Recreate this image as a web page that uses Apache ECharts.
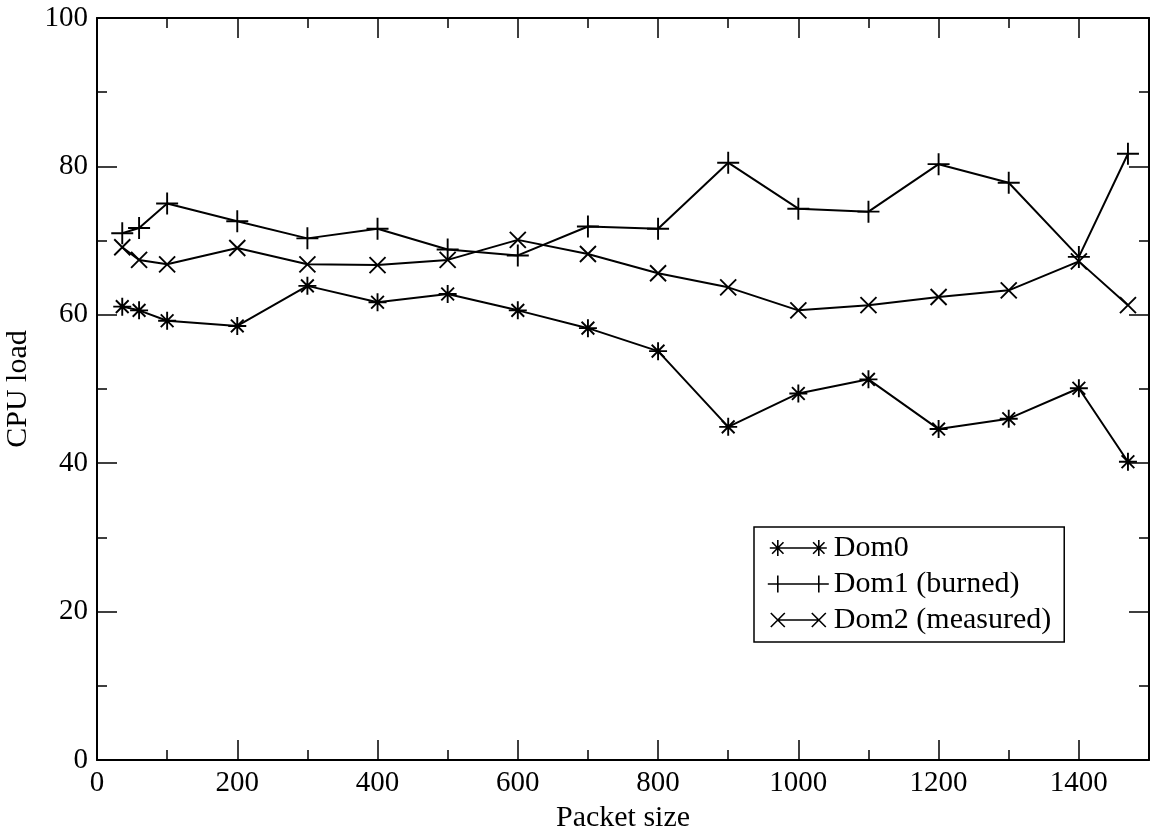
<!DOCTYPE html>
<html>
<head>
<meta charset="utf-8">
<script src="https://cdn.jsdelivr.net/npm/echarts@6/dist/echarts.min.js"></script>
<style>
html,body{margin:0;padding:0;background:#fff;}
#chart{width:1151px;height:832px;}
</style>
</head>
<body>
<div id="chart"></div>
<script>
const packetSizes = [36, 60, 100, 200, 300, 400, 500, 600, 700, 800, 900, 1000, 1100, 1200, 1300, 1400, 1470];
const dom0 = [61.1, 60.6, 59.2, 58.5, 63.9, 61.7, 62.8, 60.6, 58.2, 55.1, 44.9, 49.4, 51.3, 44.6, 46.0, 50.1, 40.2];
const dom1 = [71.0, 71.7, 75.0, 72.6, 70.3, 71.6, 68.8, 68.0, 71.9, 71.6, 80.5, 74.3, 73.9, 80.3, 77.8, 67.8, 81.7];
const dom2 = [69.1, 67.4, 66.8, 69.0, 66.8, 66.7, 67.4, 70.1, 68.2, 65.6, 63.7, 60.6, 61.3, 62.4, 63.3, 67.2, 61.3];
const seriesNames = ['Dom0', 'Dom1 (burned)', 'Dom2 (measured)'];
const xTicks = [0, 200, 400, 600, 800, 1000, 1200, 1400];
const yTicks = [0, 20, 40, 60, 80, 100];

const FONT = '"Liberation Serif", "DejaVu Serif", serif';
const starPath = 'path://M0,-10L0,10M-10,0L10,0M-7.07,-7.07L7.07,7.07M-7.07,7.07L7.07,-7.07';
const plusPath = 'path://M0,-10L0,10M-10,0L10,0';
const crossPath = 'path://M-10,-10L10,10M-10,10L10,-10';

// legend icons: line with marker at each end (bbox fixed 0..61 x 0..20, marker centres at 10 and 51)
const legStar = 'path://M0,0M61,20M10,2L10,18M2,10L18,10M4.3,4.3L15.7,15.7M4.3,15.7L15.7,4.3M10,10L51,10M51,2L51,18M43,10L59,10M45.3,4.3L56.7,15.7M45.3,15.7L56.7,4.3';
const legPlus = 'path://M0,0M61,20M10,1.5L10,18.5M0,10L20,10M10,10L51,10M51,1.5L51,18.5M41,10L61,10';
const legCross = 'path://M0,0M61,20M3,3L17,17M3,17L17,3M10,10L51,10M44,3L58,17M44,17L58,3';

function pairs(ys) { return packetSizes.map((x, i) => [x, ys[i]]); }

const chart = echarts.init(document.getElementById('chart'), null, {renderer: 'canvas'});

const axisCommon = {
  axisLine: {show: true, onZero: false, lineStyle: {color: '#000', width: 2}},
  axisTick: {show: true, inside: true, length: 20, lineStyle: {color: '#000', width: 1.5}},
  minorTick: {show: true, splitNumber: 2, length: 10, lineStyle: {color: '#000', width: 1.5}},
  splitLine: {show: false},
};

function mkSeries(name, data, symbol, size) {
  return {
    name: name, type: 'line', data: pairs(data),
    symbol: symbol, symbolSize: size,
    showSymbol: true,
    lineStyle: {color: '#000', width: 2},
    itemStyle: {color: '#000', borderColor: '#000', borderWidth: 1.9},
    emphasis: {disabled: true},
    animation: false,
    z: 3
  };
}

chart.setOption({
  backgroundColor: '#fff',
  animation: false,
  grid: {left: 97, right: 2, top: 18, bottom: 72, containLabel: false, outerBoundsMode: 'none'},
  legend: {
    show: true,
    orient: 'vertical',
    left: 754, top: 527,
    padding: [4, 13, 5, 13],
    borderColor: '#000', borderWidth: 1.5,
    backgroundColor: '#fff',
    itemWidth: 61, itemHeight: 20,
    itemGap: 2,
    textStyle: {fontFamily: FONT, fontSize: 30, color: '#000', lineHeight: 34},
    itemStyle: {color: '#000', borderColor: '#000', borderWidth: 1.6},
    data: [
      {name: seriesNames[0], icon: legStar},
      {name: seriesNames[1], icon: legPlus},
      {name: seriesNames[2], icon: legCross}
    ],
    selectedMode: false
  },
  xAxis: [
    Object.assign({
      type: 'value', min: 0, max: 1500, interval: 200, position: 'bottom',
      name: 'Packet size', nameLocation: 'middle', nameGap: 43,
      nameTextStyle: {fontFamily: FONT, fontSize: 30, color: '#000'},
      axisLabel: {show: true, fontFamily: FONT, fontSize: 29, color: '#000', margin: 9,
        formatter: v => xTicks.includes(v) ? String(v) : ''}
    }, axisCommon),
    Object.assign({
      type: 'value', min: 0, max: 1500, interval: 200, position: 'top',
      axisLabel: {show: false}
    }, axisCommon)
  ],
  yAxis: [
    Object.assign({
      type: 'value', min: 0, max: 100, interval: 20, position: 'left',
      name: 'CPU load', nameLocation: 'middle', nameGap: 56, nameRotate: 90,
      nameTextStyle: {fontFamily: FONT, fontSize: 30, color: '#000'},
      axisLabel: {show: true, fontFamily: FONT, fontSize: 29, color: '#000', margin: 9,
        formatter: v => yTicks.includes(v) ? String(v) : ''}
    }, axisCommon),
    Object.assign({
      type: 'value', min: 0, max: 100, interval: 20, position: 'right',
      axisLabel: {show: false}
    }, axisCommon)
  ],
  series: [
    mkSeries(seriesNames[0], dom0, starPath, 18),
    mkSeries(seriesNames[1], dom1, plusPath, 22),
    mkSeries(seriesNames[2], dom2, crossPath, 16)
  ]
});
</script>
</body>
</html>
